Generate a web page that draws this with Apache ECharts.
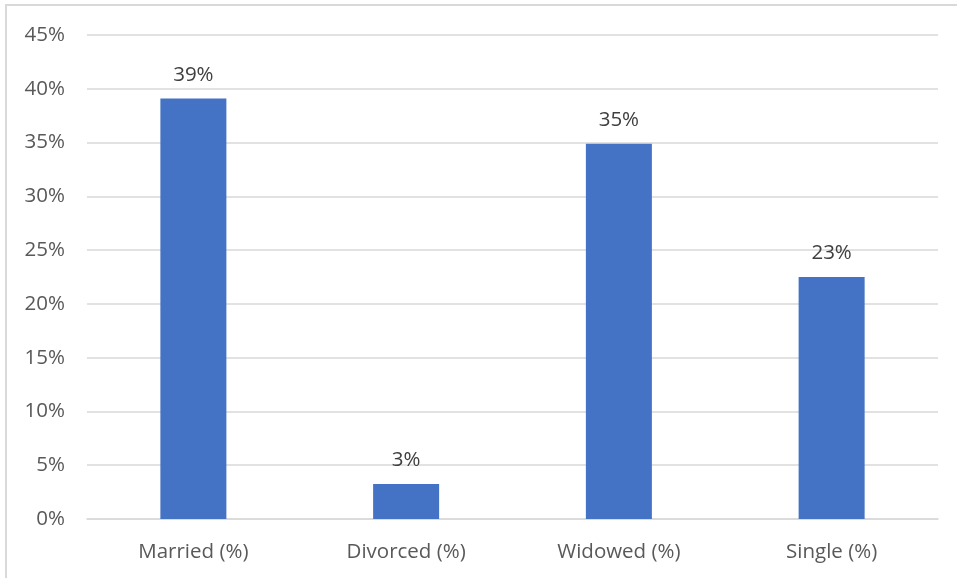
<!DOCTYPE html>
<html>
<head>
<meta charset="utf-8">
<script src="https://cdn.jsdelivr.net/npm/echarts@6/dist/echarts.min.js"></script>
<style>
  html, body { margin: 0; padding: 0; background: #fff; overflow: hidden; }
  #frame { position: absolute; left: 5px; top: 4px; width: 1000px; height: 700px; border-left: 2px solid #d9d9d9; border-top: 2px solid #d9d9d9; box-sizing: border-box; }
  #chart { position: absolute; left: 0; top: 0; width: 957px; height: 578px; }
</style>
</head>
<body>
<div id="frame"></div>
<div id="chart"></div>
<script>
const categories = ['Married (%)', 'Divorced (%)', 'Widowed (%)', 'Single (%)'];
const values = [39.1, 3.25, 34.9, 22.5];
const yTicks = { min: 0, max: 45, interval: 5 };

const chart = echarts.init(document.getElementById('chart'), null, { renderer: 'canvas' });
chart.setOption({
  animation: false,
  textStyle: { fontFamily: 'Open Sans' },
  grid: { left: 87, right: 19, top: 35, bottom: 59, containLabel: false },
  xAxis: {
    type: 'category',
    data: categories,
    axisLine: { show: true, lineStyle: { color: '#d9d9d9', width: 1.5 } },
    axisTick: { show: false },
    axisLabel: { color: '#595959', fontSize: 20.5, margin: 23, fontFamily: 'Open Sans' }
  },
  yAxis: {
    type: 'value',
    min: yTicks.min, max: yTicks.max, interval: yTicks.interval,
    axisLine: { show: false },
    axisTick: { show: false },
    splitLine: { lineStyle: { color: '#d9d9d9', width: 1.5 } },
    axisLabel: { color: '#595959', fontSize: 20.5, margin: 22, formatter: '{value}%', fontFamily: 'Open Sans' }
  },
  series: [{
    type: 'bar',
    data: values,
    barWidth: 66,
    itemStyle: { color: '#4472c4' },
    label: {
      show: true, position: 'top', distance: 13,
      color: '#404040', fontSize: 20.5, fontFamily: 'Open Sans',
      formatter: p => Math.round(p.value) + '%'
    }
  }]
});
</script>
</body>
</html>
